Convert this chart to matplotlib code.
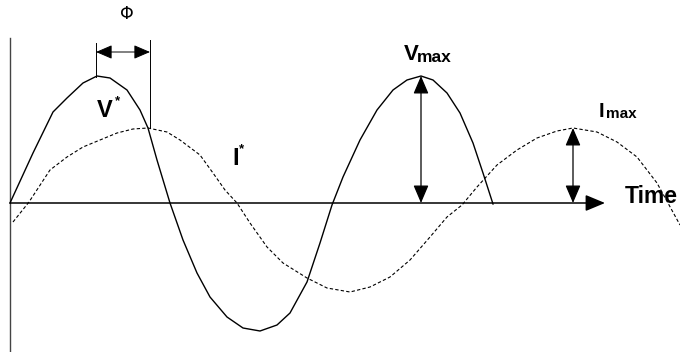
import numpy as np
import matplotlib
matplotlib.use("Agg")
import matplotlib.pyplot as plt

# Voltage waveform (solid): time vs amplitude
v_time = [0, 23, 43, 57, 73, 87, 100, 117, 130, 138, 147, 160, 173, 187, 200,
          217, 233, 250, 267, 280, 297, 310, 322, 333, 350, 367, 383, 397, 411,
          423, 437, 450, 463, 473, 483]
v_amp = [0, 50, 91, 105, 120, 127, 125, 113, 93, 75, 43, 0, -37, -70, -94,
         -114, -125, -128, -122, -110, -79, -40, -2, 26, 63, 93, 113, 123, 127,
         123, 110, 90, 60, 30, -1]

# Current waveform (dashed): lags the voltage
i_time = [3, 19, 40, 57, 73, 90, 107, 123, 138, 157, 170, 190, 203, 215, 227,
          240, 257, 273, 297, 317, 340, 360, 380, 400, 420, 437, 452, 467, 487,
          507, 527, 547, 563, 587, 607, 627, 647, 670]
i_amp = [-19, 1, 33, 46, 56, 63, 70, 74, 75, 71, 63, 48, 30, 13, 0,
         -20, -44, -60, -75, -85, -89, -84, -74, -57, -34, -14, -2, 16, 38,
         53, 65, 72, 75, 71, 61, 46, 20, -22]

# Annotation anchors
phi_start, phi_end = 86, 140      # phase shift between the two peaks
phi_level = 151
vmax_time, imax_time = 411, 563
axis_end = 595

fig = plt.figure(figsize=(6.8, 3.52), dpi=100)
ax = fig.add_axes([0, 0, 1, 1])
ax.set_xlim(-10, 670)
ax.set_ylim(-149, 203)
ax.axis("off")

# Axes of the diagram
ax.plot([0, 0], [-149, 165], color="#444444", lw=1.0)
ax.annotate("", xy=(axis_end, 0), xytext=(0, 0),
            arrowprops=dict(arrowstyle="-|>,head_length=1.2,head_width=0.5",
                            color="black", lw=1.1, shrinkA=0, shrinkB=0))

# Waveforms
ax.plot(v_time, v_amp, color="black", lw=1.0, solid_joinstyle="round")
ax.plot(i_time, i_amp, color="black", lw=0.8, linestyle=(0, (3, 2)))

# Phase shift marker
v_at_start = np.interp(phi_start, v_time, v_amp)
i_at_end = np.interp(phi_end, i_time, i_amp)
ax.plot([phi_start, phi_start], [v_at_start, 160], color="black", lw=0.7)
ax.plot([phi_end, phi_end], [i_at_end, 163], color="black", lw=0.7)
ax.annotate("", xy=(phi_end, phi_level), xytext=(phi_start, phi_level),
            arrowprops=dict(arrowstyle="<|-|>,head_length=1.0,head_width=0.43",
                            color="black", lw=0.7, shrinkA=0, shrinkB=0))
ax.text(117, 189, "Φ", fontsize=12.5, family="DejaVu Sans",
        ha="center", va="center")

# Peak amplitude markers
v_peak = np.interp(vmax_time, v_time, v_amp)
i_peak = np.interp(imax_time, i_time, i_amp)
for t, top in [(vmax_time, v_peak), (imax_time, i_peak)]:
    ax.annotate("", xy=(t, top), xytext=(t, 0),
                arrowprops=dict(arrowstyle="<|-|>,head_length=1.1,head_width=0.47",
                                color="black", lw=0.9, shrinkA=0, shrinkB=0))

# Labels
bold = dict(family="Liberation Sans", fontweight="bold", color="black")
ax.text(87, 86, "V", fontsize=17, ha="left", va="baseline", **bold)
ax.text(105, 108, "*", fontsize=9.5, ha="left", va="top", **bold)
ax.text(222, 38, "I", fontsize=17, ha="left", va="baseline", **bold)
ax.text(229, 60, "*", fontsize=9.5, ha="left", va="top", **bold)
ax.text(394, 143, "V", fontsize=16, ha="left", va="baseline", **bold)
ax.text(407, 141, "max", fontsize=12.5, ha="left", va="baseline", **bold)
ax.text(589, 86, "I", fontsize=14.5, ha="left", va="baseline", **bold)
ax.text(596, 85, "max", fontsize=11, ha="left", va="baseline", **bold)
ax.text(615, 0, "Time", fontsize=16.5, ha="left", va="baseline", **bold)

fig.savefig("out.png", dpi=100)
